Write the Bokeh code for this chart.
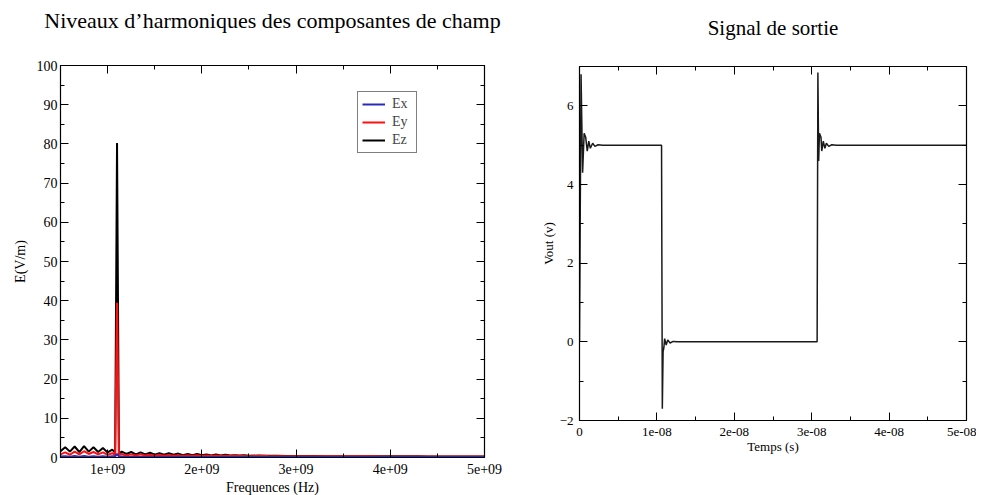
from bokeh.plotting import figure
from bokeh.models import (LinearAxis, FixedTicker, CustomJSTickFormatter, Legend,
                          LegendItem, Range1d)
from bokeh.embed import file_html
from bokeh.resources import INLINE
from jinja2 import Template

FONT = "Liberation Serif"

# ---------------- data : left chart (harmonic levels) ----------------
title_left = "Niveaux d’harmoniques des composantes de champ"
freq_ghz = [0.50, 0.55, 0.60, 0.65, 0.70, 0.75, 0.80, 0.85, 0.90, 0.95, 1.00, 1.05,
            1.08, 1.10, 1.12,
            1.15, 1.20, 1.25, 1.30, 1.35, 1.40, 1.45, 1.50, 1.55, 1.60, 1.65, 1.70, 1.75, 1.80,
            1.85, 1.90, 1.95, 2.00, 2.05, 2.10, 2.15, 2.20, 2.25, 2.30, 2.35, 2.40, 2.45, 2.50,
            2.6, 2.7, 2.8, 2.9, 3.0, 3.1, 3.2, 3.3, 3.4, 3.5, 3.6, 3.7, 3.8, 3.9, 4.0, 4.1,
            4.2, 4.3, 4.4, 4.5, 4.6, 4.7, 4.8, 4.9, 5.0]

ez = [1.6, 2.6, 1.5, 2.8, 1.4, 2.9, 1.5, 2.6, 1.4, 2.4, 1.3, 2.0,
      1.2, 80.2, 1.0,
      1.5, 0.9, 1.4, 0.8, 1.3, 0.8, 1.2, 0.7, 1.1, 0.7, 1.1, 0.7, 1.0, 0.6,
      0.9, 0.6, 0.9, 0.6, 0.8, 0.5, 0.8, 0.5, 0.7, 0.5, 0.6, 0.5, 0.6, 0.45,
      0.5, 0.45, 0.45, 0.4, 0.4, 0.4, 0.38, 0.35, 0.35, 0.35, 0.33, 0.32, 0.32, 0.3,
      0.3, 0.3, 0.3, 0.3, 0.28, 0.28, 0.28, 0.28, 0.27, 0.27, 0.27]

ey = [0.8, 1.3, 0.7, 1.5, 0.8, 1.6, 0.9, 1.4, 0.8, 1.3, 0.7, 1.1,
      0.6, 39.5, 0.7,
      0.9, 0.5, 0.8, 0.5, 0.8, 0.5, 0.7, 0.45, 0.7, 0.45, 0.65, 0.45, 0.6, 0.4,
      0.6, 0.4, 0.55, 0.4, 0.5, 0.4, 0.5, 0.38, 0.45, 0.38, 0.42, 0.36, 0.4, 0.35,
      0.38, 0.36, 0.35, 0.34, 0.33, 0.33, 0.32, 0.31, 0.3, 0.3, 0.3, 0.29, 0.29, 0.28,
      0.28, 0.28, 0.27, 0.27, 0.27, 0.26, 0.26, 0.26, 0.26, 0.25, 0.25]

ex = [0.25, 0.35, 0.2, 0.4, 0.2, 0.4, 0.2, 0.35, 0.2, 0.3, 0.2, 0.3,
      0.3, 0.9, 0.3,
      0.25, 0.15, 0.22, 0.15, 0.2, 0.15, 0.2, 0.14, 0.18, 0.14, 0.18, 0.13, 0.17, 0.13,
      0.16, 0.13, 0.15, 0.12, 0.15, 0.12, 0.14, 0.12, 0.14, 0.11, 0.13, 0.11, 0.13, 0.11,
      0.11, 0.11, 0.1, 0.1, 0.1, 0.1, 0.1, 0.1, 0.1, 0.1, 0.1, 0.1, 0.1, 0.1,
      0.1, 0.1, 0.1, 0.1, 0.1, 0.1, 0.1, 0.1, 0.1, 0.1, 0.1]

freq_ticks = [1e9, 2e9, 3e9, 4e9, 5e9]
freq_tick_labels = ["1e+09", "2e+09", "3e+09", "4e+09", "5e+09"]
freq_minor = [0.5e9, 1.5e9, 2.5e9, 3.5e9, 4.5e9]
e_ticks = [0, 10, 20, 30, 40, 50, 60, 70, 80, 90, 100]
e_minor = [5, 15, 25, 35, 45, 55, 65, 75, 85, 95]

# ---------------- data : right chart (output signal) ----------------
title_right = "Signal de sortie"
time_1e8 = [0.0, 0.02, 0.04, 0.06, 0.08, 0.10, 0.12, 0.14, 0.17, 0.20, 0.24, 0.30,
            1.06, 1.07, 1.08, 1.09, 1.10, 1.12, 1.14, 1.17, 1.21, 1.27,
            3.07, 3.08, 3.09, 3.10, 3.12, 3.13, 3.15, 3.17, 3.19, 3.22, 3.26, 3.32, 5.0]
vout = [0.0, 6.8, 4.3, 5.3, 5.2, 4.85, 5.1, 4.92, 5.05, 4.97, 5.01, 5.0,
        5.0, -1.7, -0.25, -0.15, 0.08, -0.08, 0.05, -0.03, 0.01, 0.0,
        0.0, 6.85, 4.6, 5.3, 5.2, 4.85, 5.1, 4.92, 5.05, 4.97, 5.01, 5.0, 5.0]

time_ticks = [0, 1e-8, 2e-8, 3e-8, 4e-8, 5e-8]
time_tick_labels = ["0", "1e-08", "2e-08", "3e-08", "4e-08", "5e-08"]
time_minor = [0.5e-8, 1.5e-8, 2.5e-8, 3.5e-8, 4.5e-8]
v_ticks = [-2, 0, 2, 4, 6]
v_minor = [-1, 1, 3, 5, 7]

freq_hz = [f * 1e9 for f in freq_ghz]
time_s = [t * 1e-8 for t in time_1e8]


def blank():
    return CustomJSTickFormatter(code="return ''")


def style_axis(ax, size):
    ax.axis_line_color = "black"
    ax.axis_line_width = 1.2
    ax.major_tick_in = 8
    ax.major_tick_out = 0
    ax.minor_tick_in = 4
    ax.minor_tick_out = 0
    ax.major_tick_line_color = "black"
    ax.minor_tick_line_color = "black"
    ax.major_label_text_font = FONT
    ax.major_label_text_font_size = size
    ax.major_label_text_color = "black"
    ax.axis_label_text_font = FONT
    ax.axis_label_text_font_size = size
    ax.axis_label_text_font_style = "normal"
    ax.axis_label_text_color = "black"


def make_ticker(major, minor):
    return FixedTicker(ticks=major, minor_ticks=minor)


# ---------------- left figure ----------------
p1 = figure(width=512, height=494, output_backend="svg", toolbar_location=None,
            title=None,
            x_range=Range1d(0.5e9, 5e9), y_range=Range1d(0, 100),
            min_border_left=52, min_border_right=36, min_border_top=62,
            min_border_bottom=40)
p1.xgrid.visible = False
p1.ygrid.visible = False
p1.outline_line_color = "black"

p1.xaxis.ticker = make_ticker(freq_ticks, freq_minor)
p1.xaxis.major_label_overrides = dict(zip(freq_ticks, freq_tick_labels))
p1.xaxis.axis_label = "Frequences (Hz)"
p1.xaxis.major_label_standoff = 6
p1.xaxis.axis_label_standoff = 3
p1.yaxis.ticker = make_ticker(e_ticks, e_minor)
p1.yaxis.axis_label = "E(V/m)"
p1.yaxis.major_label_standoff = 3
p1.yaxis.axis_label_standoff = 6
style_axis(p1.xaxis[0], "14px")
style_axis(p1.yaxis[0], "14px")
top1 = LinearAxis(ticker=make_ticker(freq_ticks, freq_minor), formatter=blank(),
                  axis_label=title_left)
right1 = LinearAxis(ticker=make_ticker(e_ticks, e_minor), formatter=blank())
for ax in (top1, right1):
    style_axis(ax, "14px")
    ax.major_label_standoff = 0
top1.axis_label_text_font_size = "22px"
top1.axis_label_standoff = 33
p1.add_layout(top1, "above")
p1.add_layout(right1, "right")

rz = p1.line(freq_hz, ez, line_color="black", line_width=2)
ry = p1.line(freq_hz, ey, line_color="#ff1010", line_width=2)
rx = p1.line(freq_hz, ex, line_color="#2a2ab8", line_width=2)

legend = Legend(items=[LegendItem(label="Ex", renderers=[rx]),
                       LegendItem(label="Ey", renderers=[ry]),
                       LegendItem(label="Ez", renderers=[rz])],
                location=(297, 304))
legend.border_line_color = "black"
legend.border_line_width = 1
legend.background_fill_color = "white"
legend.label_text_font = FONT
legend.label_text_font_size = "14px"
legend.glyph_width = 23
legend.glyph_height = 14
legend.label_height = 16
legend.spacing = 2
legend.padding = 4
legend.margin = 0
legend.label_standoff = 7
p1.add_layout(legend)

# ---------------- right figure ----------------
p2 = figure(width=456, height=479, output_backend="svg", toolbar_location=None,
            title=None,
            x_range=Range1d(0, 5e-8), y_range=Range1d(-2, 7),
            min_border_left=59, min_border_right=10, min_border_top=58,
            min_border_bottom=67)
p2.xgrid.visible = False
p2.ygrid.visible = False
p2.outline_line_color = "black"

p2.xaxis.ticker = make_ticker(time_ticks, time_minor)
p2.xaxis.major_label_overrides = dict(zip(time_ticks, time_tick_labels))
p2.xaxis.axis_label = "Temps (s)"
p2.xaxis.major_label_standoff = 7
p2.xaxis.axis_label_standoff = 0
p2.yaxis.ticker = make_ticker(v_ticks, v_minor)
p2.yaxis.axis_label = "Vout (v)"
p2.yaxis.major_label_standoff = 6
p2.yaxis.axis_label_standoff = 1
style_axis(p2.xaxis[0], "13px")
style_axis(p2.yaxis[0], "13px")
top2 = LinearAxis(ticker=make_ticker(time_ticks, time_minor), formatter=blank(),
                  axis_label=title_right)
right2 = LinearAxis(ticker=make_ticker(v_ticks, v_minor), formatter=blank())
for ax in (top2, right2):
    style_axis(ax, "13px")
    ax.major_label_standoff = 0
top2.axis_label_text_font_size = "21px"
top2.axis_label_standoff = 27
p2.add_layout(top2, "above")
p2.add_layout(right2, "right")

p2.line(time_s, vout, line_color="#1a1a1a", line_width=1.5)

page = Template("""{% extends base %}
{% block postamble %}
<style>
  html, body { overflow: hidden; }
  body { margin: 8px; display: flex; flex-direction: row; align-items: flex-start; }
  body > div > * { flex-shrink: 0; }
  body > div:first-of-type > * { margin-top: -5px; }
</style>
{% endblock %}
""")

p = [p1, p2]
open("out.html", "w").write(file_html(p, INLINE, template=page))
